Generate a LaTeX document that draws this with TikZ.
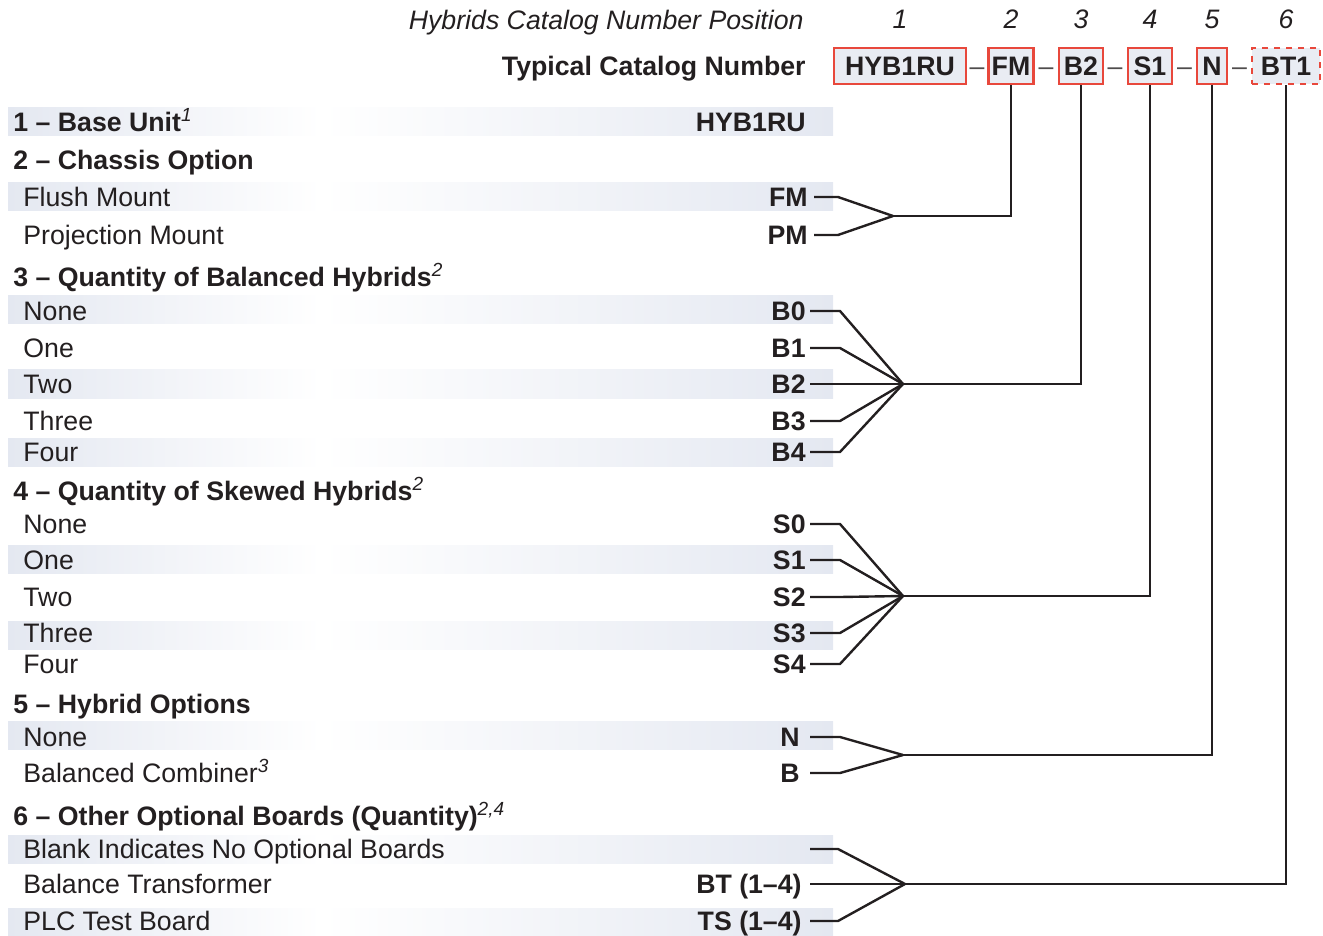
\documentclass[tikz,border=0pt]{standalone}
\usepackage{fontspec}
\setmainfont{Liberation Sans}
\usetikzlibrary{positioning}

\definecolor{texto}{RGB}{35,31,32}
\definecolor{banda}{RGB}{228,232,241}
\definecolor{rojo}{RGB}{232,72,60}
\definecolor{relleno}{RGB}{233,236,243}
\pgfdeclarehorizontalshading{bandshade}{100bp}{color(0bp)=(banda); color(25bp)=(banda); color(44bp)=(white); color(75bp)=(banda); color(100bp)=(banda)}
\newcommand\tam{\fontsize{13.35}{16}\selectfont}
\newcommand\nota[1]{\textsuperscript{\fontsize{9.5}{10}\selectfont\mdseries\itshape #1}}

\tikzset{
  every node/.style={text=texto, inner sep=0pt, text height=9.6pt, text depth=0pt},
  seccion/.style={anchor=west, font=\tam\bfseries},
  opcion/.style={anchor=west, font=\tam},
  codigo/.style={anchor=east, font=\tam\bfseries},
  caja/.style={draw=rojo, fill=relleno, line width=1.2pt, font=\tam\bfseries, minimum height=18pt},
  num/.style={font=\tam\itshape},
  guion/.style={font=\tam, text=texto!80},
  linea/.style={line width=1.2pt, draw=texto},
}

\begin{document}
\begin{tikzpicture}[x=0.5pt, y=-0.5pt]
  \useasboundingbox (0,0) rectangle (1323,936);
  % Bandas sombreadas
  \foreach \y in {122,197,310,384,452,559,635,735,849,922}
    \shade[shading=bandshade] (8,\y-14) rectangle (833,\y+14);

  % Encabezado
  \node[num, anchor=east] (posicion) at (804,20) {Hybrids Catalog Number Position};
  \node[codigo] (tipico) at (806,66) {Typical Catalog Number};
  \node[caja, minimum width=66pt] (c1) at (900,66) {HYB1RU};
  \node[caja, minimum width=22.5pt] (c2) at (1011,66) {FM};
  \node[caja, minimum width=22pt] (c3) at (1081,66) {B2};
  \node[caja, minimum width=22pt] (c4) at (1150,66) {S1};
  \node[caja, minimum width=15pt] (c5) at (1212,66) {N};
  \node[caja, dashed, minimum width=34pt] (c6) at (1286,66) {BT1};
  \foreach \i in {1,...,6}
    \node[num, above=9pt of c\i] (n\i) {\i};
  \foreach \x in {977,1046,1115,1184.5,1239.5}
    \node[guion] at (\x,66) {–};

  % 1 - Unidad base
  \node[seccion] (s1) at (13,122) {1 – Base Unit\nota{1}};
  \node[codigo] (hyb) at (806,122) {HYB1RU};

  % 2 - Chasis
  \node[seccion] (s2) at (13,160) {2 – Chassis Option};
  \node[opcion] (tfm) at (23,197) {Flush Mount};
  \node[opcion] (tpm) at (23,235) {Projection Mount};
  \node[codigo] (fm) at (808,197) {FM};
  \node[codigo] (pm) at (808,235) {PM};
  \coordinate (jfm) at (893,216);
  \foreach \c in {fm,pm}
    \draw[linea] ([xshift=3pt]\c.east) -- ++(24,0) -- (jfm);
  \draw[linea] (jfm) -| (c2.south);

  % 3 - Balanceados
  \node[seccion] (s3) at (13,277) {3 – Quantity of Balanced Hybrids\nota{2}};
  \foreach \t/\y [count=\i from 0] in {None/311,One/348,Two/384,Three/421,Four/452} {
    \node[opcion] (tb\i) at (23,\y) {\t};
    \node[codigo] (b\i) at (806,\y) {B\i};
  }
  \coordinate (jb) at (903,384);
  \foreach \i in {0,...,4}
    \draw[linea] ([xshift=2pt]b\i.east) -- ++(30,0) -- (jb);
  \draw[linea] (jb) -| (c3.south);

  % 4 - Sesgados
  \node[seccion] (s4) at (13,491) {4 – Quantity of Skewed Hybrids\nota{2}};
  \foreach \t/\y [count=\i from 0] in {None/524,One/560,Two/597,Three/633,Four/664} {
    \node[opcion] (ts\i) at (23,\y) {\t};
    \node[codigo] (sk\i) at (806,\y) {S\i};
  }
  \coordinate (js) at (903,596);
  \foreach \i in {0,...,4}
    \draw[linea] ([xshift=2pt]sk\i.east) -- ++(30,0) -- (js);
  \draw[linea] (js) -| (c4.south);

  % 5 - Opciones
  \node[seccion] (s5) at (13,704) {5 – Hybrid Options};
  \node[opcion] (tn) at (23,737) {None};
  \node[opcion] (tbc) at (23,773) {Balanced Combiner\nota{3}};
  \node[codigo] (n) at (800,737) {N};
  \node[codigo] (bc) at (800,773) {B};
  \coordinate (jn) at (903,755);
  \foreach \c in {n,bc}
    \draw[linea] ([xshift=5pt]\c.east) -- ++(30,0) -- (jn);
  \draw[linea] (jn) -| (c5.south);

  % 6 - Otras tarjetas
  \node[seccion] (s6) at (13,816) {6 – Other Optional Boards (Quantity)\nota{2,4}};
  \node[opcion] (tbl) at (23,849) {Blank Indicates No Optional Boards};
  \node[opcion] (tbt) at (23,884) {Balance Transformer};
  \node[opcion] (tts) at (23,921) {PLC Test Board};
  \node[codigo] (bt) at (802,884) {BT (1–4)};
  \node[codigo] (ts) at (802,921) {TS (1–4)};
  \coordinate (blank) at (810,849);
  \coordinate (jbt) at (905,884);
  \draw[linea] (blank) -- ++(28,0) -- (jbt);
  \draw[linea] ([xshift=4pt]bt.east) -- (jbt);
  \draw[linea] ([xshift=4pt]ts.east) -- ++(28,0) -- (jbt);
  \draw[linea] (jbt) -| (c6.south);
\end{tikzpicture}
\end{document}
